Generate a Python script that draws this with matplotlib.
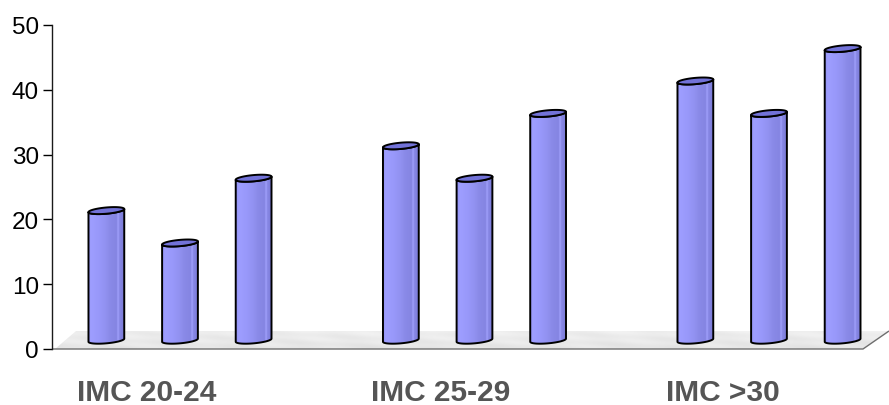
import numpy as np
import matplotlib
matplotlib.use("Agg")
import matplotlib.pyplot as plt
from matplotlib.patches import Polygon
from matplotlib.colors import LinearSegmentedColormap

# ---- data ----
categories = ["IMC 20-24", "IMC 25-29", "IMC >30"]
series_a = [20, 30, 40]
series_b = [15, 25, 35]
series_c = [25, 35, 45]
y_ticks = [0, 10, 20, 30, 40, 50]

plt.rcParams["font.family"] = ["Liberation Sans", "DejaVu Sans"]

W, H = 889, 406
fig = plt.figure(figsize=(W / 100, H / 100), dpi=100)
ax = fig.add_axes([52 / W, 56 / H, 837 / W, 324 / H])
x0 = -0.4346
x1 = x0 + 837 / 294.5
ax.set_xlim(x0, x1)
ax.set_ylim(0, 50)
ax.set_autoscale_on(False)
ppx = (x1 - x0) / ax.bbox.width
ppy = 50 / ax.bbox.height

# ---- floor ----
fl_x = x0 + 3 * ppx
fr_x = x1 - 26 * ppx
bl_x = x0 + 24 * ppx
br_x = x1
back_y = 18 * ppy
floor = Polygon([[fl_x, 0], [fr_x, 0], [br_x, back_y], [bl_x, back_y]],
                closed=True, facecolor="none", edgecolor="none", zorder=1)
ax.add_patch(floor)
gx = np.linspace(0, 1, 400)
gy = np.linspace(0, 1, 40)
GX, GY = np.meshgrid(gx, gy)
tex = 0.55 + 0.2 * GY + 0.1 * np.sin(GX * 60 + GY * 9) * np.sin(GX * 23 - GY * 5)
floor_cmap = LinearSegmentedColormap.from_list("fl", ["#cdcdcd", "#fafafa"])
fim = ax.imshow(tex, extent=[fl_x, br_x, 0, back_y], origin="lower", aspect="auto",
                cmap=floor_cmap, vmin=0, vmax=1, interpolation="bilinear", zorder=1)
fim.set_clip_path(floor)
ax.plot([x0, fr_x, br_x], [0, 0, back_y], color="#6e6e6e", lw=1.0, zorder=2,
        clip_on=False, solid_capstyle="butt")

# ---- cylinders ----
body_cmap = LinearSegmentedColormap.from_list("body", [
    (0.0, "#9494f4"), (0.08, "#9e9eff"), (0.3, "#9898fa"), (0.5, "#9191f0"),
    (0.6, "#8a8ae8"), (0.8, "#8585e2"), (0.84, "#a4a4ff"), (0.87, "#8989e6"),
    (1.0, "#7a7ad6")])

A_PX, B_PX, C_PX, LIFT = 16.0, 8.0, 3.5, 8.8


def cylinder(xc, v):
    tr = np.arctan2(B_PX, A_PX)
    tl = tr + np.pi
    yb = LIFT * ppy
    yt = v + LIFT * ppy

    def ell(t, yc):
        return np.column_stack([xc + (A_PX * np.cos(t) + B_PX * np.sin(t)) * ppx,
                                yc + C_PX * np.sin(t) * ppy])

    tb = np.linspace(tl, tr + 2 * np.pi, 80)
    tt = np.linspace(tr + 2 * np.pi, tl, 80)
    body_pts = np.vstack([ell(tb, yb), ell(tt, yt)])
    body = Polygon(body_pts, closed=True, facecolor="none", edgecolor="black",
                   lw=1.4, zorder=4, joinstyle="round")
    ax.add_patch(body)
    hw = np.hypot(A_PX, B_PX) * ppx
    grad = np.linspace(0, 1, 200).reshape(1, -1)
    im = ax.imshow(grad, extent=[xc - hw, xc + hw, yb - C_PX * ppy, yt + C_PX * ppy],
                   aspect="auto", cmap=body_cmap, vmin=0, vmax=1,
                   interpolation="bilinear", zorder=3)
    im.set_clip_path(body)
    cap = Polygon(ell(np.linspace(0, 2 * np.pi, 120), yt), closed=True,
                  facecolor="#7272d8", edgecolor="black", lw=1.4, zorder=5,
                  joinstyle="round")
    ax.add_patch(cap)


offsets = [-0.25, 0.0, 0.25]
for i in range(len(categories)):
    for off, series in zip(offsets, [series_a, series_b, series_c]):
        cylinder(i + off, series[i])

# ---- axes styling ----
for s in ["top", "right", "bottom"]:
    ax.spines[s].set_visible(False)
ax.spines["left"].set_color("#1a1a1a")
ax.spines["left"].set_linewidth(1.0)
ax.set_xticks([])
ax.set_yticks(y_ticks)
ax.set_yticklabels([str(t) for t in y_ticks])
ax.tick_params(axis="y", length=6.5, width=1.0, pad=3, labelsize=17.5,
               colors="black")

for i, lab in enumerate(categories):
    ax.text(i - 103 * ppx, -51.5 * ppy, lab, ha="left", va="baseline",
            fontsize=21.5, fontweight="bold", color="#555555", clip_on=False)

fig.savefig("out.png", dpi=100)
